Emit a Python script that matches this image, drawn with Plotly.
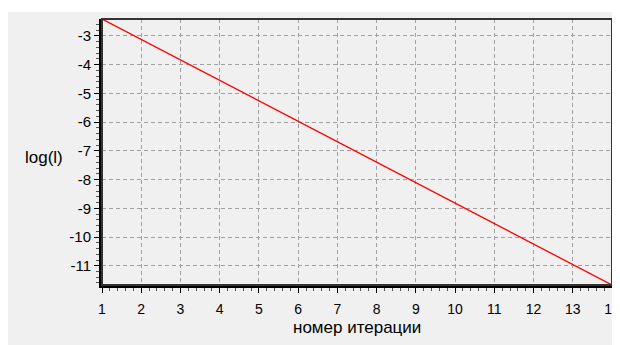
import plotly.graph_objects as go

iterations = list(range(1, 15))
log_l = [-2.41, -3.12, -3.83, -4.55, -5.26, -5.97, -6.69, -7.40, -8.11, -8.83, -9.54, -10.25, -10.96, -11.67]
x_ticks = list(range(1, 15))
y_ticks = list(range(-11, -2))
y_ticktext = ["-%d" % abs(v) for v in y_ticks]

# page offset of the figure (html body margin)
OFF = 8
W, H = 612, 337
L, T = 102 - OFF, 19 - OFF
R = W - (612 - OFF)
B = H - (285 - OFF)
pw, ph = W - L - R, H - T - B

def px_x(p):
    return (p - OFF - L) / pw

def px_y(p):
    return (H - B - (p - OFF)) / ph

fig = go.Figure(go.Scatter(x=iterations, y=log_l, mode="lines",
                           line=dict(color="#ff0000", width=1.3)))

yfont = dict(family="Liberation Sans, Arial, sans-serif", size=15, color="#000000")
xfont = dict(family="Liberation Sans, Arial, sans-serif", size=14, color="#000000")
title_font = dict(family="Liberation Sans, Arial, sans-serif", size=17, color="#000000")
axis_common = dict(showgrid=True, gridcolor="#a0a0a0", gridwidth=1, griddash="4px,3px",
                   zeroline=False, showline=True, linecolor="#000000", linewidth=3,
                   ticks="outside", ticklen=5, tickcolor="#000000", tickwidth=1,
                   automargin=False)

fig.update_layout(
    width=W, height=H,
    margin=dict(l=L, r=R, t=T, b=B, pad=0, autoexpand=False),
    paper_bgcolor="#f0f0f0", plot_bgcolor="#f0f0f0",
    showlegend=False, font=yfont,
    xaxis=dict(range=[1, 14], tickvals=x_ticks, tickfont=xfont, ticklabelstandoff=4,
               **axis_common,
               minor=dict(ticks="outside", ticklen=3, tickcolor="#555555", dtick=0.2, showgrid=False)),
    yaxis=dict(range=[-11.67, -2.41], tickvals=y_ticks, ticktext=y_ticktext, tickfont=yfont,
               **axis_common,
               minor=dict(ticks="outside", ticklen=3, tickcolor="#555555", dtick=0.2, showgrid=False)),
    shapes=[
        dict(type="rect", xref="paper", yref="paper", layer="below",
             x0=px_x(0), x1=px_x(640), y0=px_y(12), y1=px_y(0),
             fillcolor="#ffffff", line=dict(width=0)),
        dict(type="rect", xref="paper", yref="paper", layer="above",
             x0=0, x1=1, y0=0, y1=1, line=dict(color="#333333", width=2)),
    ],
    annotations=[
        dict(text="log(l)", xref="paper", yref="paper", x=px_x(44), y=px_y(157),
             showarrow=False, xanchor="center", yanchor="middle", font=title_font),
        dict(text="номер итерации", xref="paper", yref="paper", x=px_x(357), y=px_y(327),
             showarrow=False, xanchor="center", yanchor="middle", font=title_font),
    ],
)

fig.write_html("out.html")
